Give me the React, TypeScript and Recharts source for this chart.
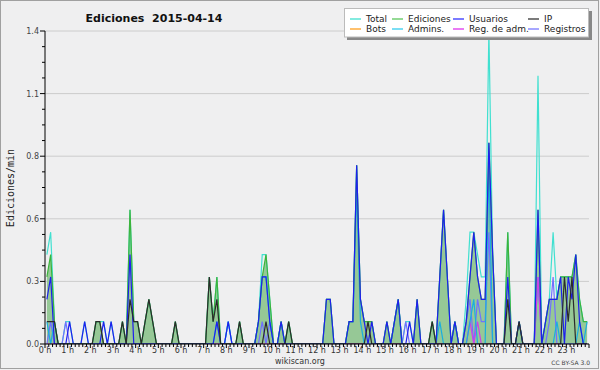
import React from 'react';
import { ComposedChart, Area, Line, XAxis, YAxis, CartesianGrid } from 'recharts';

const hourLabels = ['0 h','1 h','2 h','3 h','4 h','5 h','6 h','7 h','8 h','9 h','10 h','11 h','12 h','13 h','14 h','15 h','16 h','17 h','18 h','19 h','20 h','21 h','22 h','23 h'];
const yMajorTicks = [0, 0.28, 0.56, 0.84, 1.12, 1.4];
const yMajorLabels = ['0.0', '0.3', '0.6', '0.8', '1.1', '1.4'];
const yMinorTicks = [0.07, 0.14, 0.21, 0.35, 0.42, 0.49, 0.63, 0.7, 0.77, 0.91, 0.98, 1.05, 1.19, 1.26, 1.33];

// 10-minute bins, edits per minute
const total = [
  0.4,0.5,0.1,0,0,0.1,0.1,0,0,0,0.1,0,0,0.1,0.1,0.1,0,0.1,0,0,0.1,0,0.6,0.1,
  0.1,0,0.1,0.2,0.1,0,0,0,0,0,0.1,0,0,0,0,0,0,0,0,0.3,0.1,0.3,0,0,
  0.1,0,0,0.1,0,0,0,0,0.1,0.4,0.4,0.2,0,0,0.1,0,0.1,0,0,0,0,0,0,0,
  0,0,0.2,0.2,0,0,0,0,0.1,0.1,0.8,0.2,0.1,0.1,0.1,0,0,0,0.1,0,0.1,0.2,0,0.1,
  0.1,0,0.2,0,0,0,0.1,0,0.3,0.6,0.3,0,0.1,0,0,0.2,0.5,0.5,0.4,0.3,0.3,1.4,0.4,0,
  0,0,0.5,0,0,0.1,0,0,0,0,1.2,0,0.1,0.2,0.5,0.2,0.3,0.3,0.3,0.3,0.4,0.2,0.1,0.1,
];
const ediciones = [
  0.3,0.4,0.1,0,0,0,0,0,0,0,0,0,0,0.1,0.1,0,0,0,0,0,0.1,0,0.6,0.1,
  0.1,0,0.1,0.2,0.1,0,0,0,0,0,0.1,0,0,0,0,0,0,0,0,0.3,0.1,0.3,0,0,
  0,0,0,0.1,0,0,0,0,0.1,0.3,0.4,0.2,0,0,0.1,0,0.1,0,0,0,0,0,0,0,
  0,0,0.2,0.2,0,0,0,0,0.1,0.1,0.8,0.2,0.1,0.1,0.1,0,0,0,0.1,0,0.1,0.2,0,0,
  0,0,0.2,0,0,0,0.1,0,0.3,0.6,0.3,0,0.1,0,0,0.1,0.3,0.5,0.3,0.2,0.2,0.9,0.4,0,
  0,0,0.5,0,0,0.1,0,0,0,0,0.6,0,0.1,0.2,0.2,0.2,0.3,0.3,0.3,0.3,0.4,0.2,0.1,0.1,
];
const usuarios = [
  0.2,0.3,0,0,0,0,0.1,0,0,0,0.1,0,0,0,0,0.1,0,0.1,0,0,0,0,0.4,0,
  0,0,0,0,0,0,0,0,0,0,0,0,0,0,0,0,0,0,0,0,0,0.1,0,0,
  0.1,0,0,0,0,0,0,0,0.1,0.3,0.3,0.1,0,0,0.1,0,0,0,0,0,0,0,0,0,
  0,0,0.2,0.2,0,0,0,0,0.1,0.1,0.8,0.2,0.1,0,0.1,0,0,0,0.1,0,0.1,0.2,0,0,
  0.1,0,0.2,0,0,0,0,0,0.3,0.6,0.3,0,0.1,0,0,0.1,0.3,0.5,0.3,0.2,0.2,0.9,0.4,0,
  0,0,0.3,0,0,0.1,0,0,0,0,0.6,0,0.1,0.2,0.2,0.2,0.3,0,0.3,0.2,0.4,0.1,0,0,
];
const ip = [
  0.1,0.1,0.1,0,0,0,0,0,0,0,0,0,0,0.1,0.1,0,0,0,0,0,0.1,0,0.2,0.1,
  0.1,0,0.1,0.2,0.1,0,0,0,0,0,0.1,0,0,0,0,0,0,0,0,0.3,0.1,0.2,0,0,
  0,0,0,0.1,0,0,0,0,0,0,0.1,0,0,0,0,0,0.1,0,0,0,0,0,0,0,
  0,0,0,0,0,0,0,0,0,0,0,0,0,0.1,0,0,0,0,0,0,0,0,0,0,
  0,0,0,0,0,0,0.1,0,0,0,0,0,0,0,0,0,0,0,0,0,0,0,0,0,
  0,0,0.2,0,0,0.1,0,0,0,0,0,0,0,0,0,0,0,0.3,0.1,0.3,0,0,0,0,
];
const bots = [
  0,0,0,0,0,0,0,0,0,0,0,0,0,0,0,0,0,0,0,0,0,0,0,0,
  0,0,0,0,0,0,0,0,0,0,0,0,0,0,0,0,0,0,0,0,0,0,0,0,
  0,0,0,0,0,0,0,0,0,0,0,0,0,0,0,0,0,0,0,0,0,0,0,0,
  0,0,0,0,0,0,0,0,0,0,0,0,0,0,0,0,0,0,0,0,0,0,0,0,
  0,0,0,0,0,0,0,0,0,0,0,0,0,0,0,0,0,0,0,0,0,0,0,0,
  0,0,0,0,0,0,0,0,0,0,0,0,0,0,0,0,0,0,0,0,0,0,0,0,
];
const admins = [
  0.1,0,0.1,0,0,0,0,0,0,0,0,0,0,0,0,0,0,0,0,0,0,0,0,0,
  0,0,0,0,0,0,0,0,0,0,0,0,0,0,0,0,0,0,0,0,0,0.1,0,0,
  0.1,0,0,0,0,0,0,0,0.1,0.3,0.3,0.1,0,0,0.1,0,0,0,0,0,0,0,0,0,
  0,0,0,0,0,0,0,0,0.1,0.1,0.7,0.1,0,0,0,0,0,0,0,0,0.1,0.2,0,0,
  0,0,0,0,0,0,0,0,0.1,0,0,0,0.1,0,0,0,0.1,0.2,0,0,0,0.8,0,0,
  0,0,0,0,0,0,0,0,0,0,0,0,0,0,0,0.1,0,0,0,0,0,0.1,0,0.1,
];
const regAdm = [
  0,0,0,0,0,0,0,0,0,0,0,0,0,0,0,0,0,0,0,0,0,0,0,0,
  0,0,0,0,0,0,0,0,0,0,0,0,0,0,0,0,0,0,0,0,0,0,0,0,
  0,0,0,0,0,0,0,0,0,0,0,0,0,0,0,0,0,0,0,0,0,0,0,0,
  0,0,0,0,0,0,0,0,0,0,0,0,0,0,0,0,0,0,0,0,0,0,0,0,
  0,0,0,0,0,0,0,0,0,0,0,0,0,0,0,0,0.1,0,0.1,0,0,0,0,0,
  0,0,0,0,0,0,0,0,0,0,0.3,0,0,0,0,0,0,0,0,0,0,0,0,0,
];
const registros = [
  0,0.1,0,0,0,0.1,0,0,0,0,0,0,0,0,0,0,0,0,0,0,0,0,0,0,
  0,0,0,0,0,0,0,0,0,0,0,0,0,0,0,0,0,0,0,0,0,0,0,0,
  0,0,0,0,0,0,0,0,0,0.1,0,0.1,0,0,0,0,0,0,0,0,0,0,0,0,
  0,0,0,0,0,0,0,0,0,0,0,0,0,0,0,0,0,0,0,0,0,0,0,0.1,
  0,0,0,0,0,0,0,0,0,0,0,0,0,0,0,0.1,0.2,0,0.2,0.1,0.1,0.5,0,0,
  0,0,0,0,0,0,0,0,0,0,0.3,0,0,0.1,0.3,0,0,0,0,0,0,0,0,0,
];

const rows = total.map((t, i) => ({
  x: i + 0.5,
  total: t,
  ediciones: ediciones[i],
  usuarios: usuarios[i],
  ip: ip[i],
  bots: bots[i],
  admins: admins[i],
  regAdm: regAdm[i],
  registros: registros[i],
}));

const xTicks = Array.from({ length: 145 }, (_, i) => i);
const yTicks = [...yMajorTicks, ...yMinorTicks].sort((a, b) => a - b);

const C = {
  total: '#40e0d0',
  edLine: '#3cb43c',
  edFill: '#96c896',
  usuarios: '#1f1fee',
  ip: '#2b2b2b',
  bots: '#ffa020',
  admins: '#19aee0',
  regAdm: '#d040e8',
  registros: '#7070ff',
};

const FONT = '"DejaVu Sans", sans-serif';

const XTick = (props: any) => {
  const { x, y, payload } = props;
  const v = Math.round(payload.value);
  const isHour = v % 6 === 0;
  const label = isHour && v / 6 < 24 ? hourLabels[v / 6] : '';
  return (
    <g>
      <line x1={x} x2={x} y1={y} y2={y + (isHour ? 4 : 3)} stroke="#000" strokeWidth={1} />
      {label ? (
        <text x={x} y={y + 9} textAnchor="middle" fontSize={8} fontFamily={FONT} fill="#333">{label}</text>
      ) : null}
    </g>
  );
};

const YTick = (props: any) => {
  const { x, y, payload } = props;
  const idx = yMajorTicks.findIndex((t) => Math.abs(t - payload.value) < 1e-6);
  const major = idx >= 0;
  return (
    <g>
      <line x1={x - (major ? 5 : 3)} x2={x} y1={y} y2={y} stroke="#000" strokeWidth={1} />
      {major ? (
        <text x={x - 6} y={y + 3} textAnchor="end" fontSize={8} fontFamily={FONT} fill="#444">{yMajorLabels[idx]}</text>
      ) : null}
    </g>
  );
};

const legendItems = [
  { name: 'Total', color: C.total, col: 0, row: 0 },
  { name: 'Ediciones', color: '#5cc65c', col: 1, row: 0 },
  { name: 'Usuarios', color: '#3333ff', col: 2, row: 0 },
  { name: 'IP', color: '#333333', col: 3, row: 0 },
  { name: 'Bots', color: C.bots, col: 0, row: 1 },
  { name: 'Admins.', color: '#33ccee', col: 1, row: 1 },
  { name: 'Reg. de adm.', color: '#dd33ee', col: 2, row: 1 },
  { name: 'Registros', color: '#7777ff', col: 3, row: 1 },
];
const legendCols = [350, 392, 453, 528];

export default function App() {
  return (
    <div style={{ position: 'relative', width: 600, height: 370, background: '#efeff0' }}>
      <style>{'body{margin:0}'}</style>
      <ComposedChart
        width={600}
        height={370}
        data={rows}
        margin={{ top: 31, right: 11, bottom: 0, left: 0 }}
      >
        <CartesianGrid vertical={false} horizontalValues={yMajorTicks} stroke="#cccccc" strokeWidth={1} />
        <XAxis
          dataKey="x"
          type="number"
          domain={[0, 144]}
          ticks={xTicks}
          interval={0}
          height={26}
          tickSize={0}
          tickMargin={0}
          tick={<XTick />}
          tickLine={false}
          axisLine={{ stroke: '#000', strokeWidth: 1 }}
          allowDataOverflow
        />
        <YAxis
          type="number"
          domain={[0, 1.4]}
          ticks={yTicks}
          interval={0}
          width={45}
          tickSize={0}
          tickMargin={0}
          tick={<YTick />}
          tickLine={false}
          axisLine={{ stroke: '#000', strokeWidth: 1 }}
          allowDataOverflow
        />
        <Area type="linear" dataKey="ediciones" stroke="none" fill={C.edFill} fillOpacity={1} isAnimationActive={false} dot={false} activeDot={false} />
        <Line type="linear" dataKey="total" stroke={C.total} strokeWidth={1.2} dot={false} activeDot={false} isAnimationActive={false} />
        <Line type="linear" dataKey="bots" stroke={C.bots} strokeWidth={1.2} dot={false} activeDot={false} isAnimationActive={false} />
        <Line type="linear" dataKey="registros" stroke={C.registros} strokeWidth={1.2} dot={false} activeDot={false} isAnimationActive={false} />
        <Line type="linear" dataKey="regAdm" stroke={C.regAdm} strokeWidth={1.2} dot={false} activeDot={false} isAnimationActive={false} />
        <Line type="linear" dataKey="admins" stroke={C.admins} strokeWidth={1.2} dot={false} activeDot={false} isAnimationActive={false} />
        <Line type="linear" dataKey="ediciones" stroke={C.edLine} strokeWidth={1.2} dot={false} activeDot={false} isAnimationActive={false} />
        <Line type="linear" dataKey="usuarios" stroke={C.usuarios} strokeWidth={1.2} dot={false} activeDot={false} isAnimationActive={false} />
        <Line type="linear" dataKey="ip" stroke={C.ip} strokeWidth={1.2} dot={false} activeDot={false} isAnimationActive={false} />
      </ComposedChart>
      <svg width={600} height={370} style={{ position: 'absolute', left: 0, top: 0, pointerEvents: 'none' }}>
        <rect x={0.5} y={0.5} width={598} height={368} fill="none" stroke="#a0a0a0" strokeWidth={1} />
        <text x={154} y={22} textAnchor="middle" fontSize={11} fontWeight="bold" fontFamily={FONT} fill="#111">
          {'Ediciones\u00a0\u00a02015-04-14'}
        </text>
        <text
          x={14}
          y={188}
          transform="rotate(-90 14 188)"
          textAnchor="middle"
          fontSize={10}
          fontFamily='"DejaVu Sans Mono", monospace'
          fill="#222"
        >
          Ediciones/min
        </text>
        <text x={300} y={364} textAnchor="middle" fontSize={8} fontFamily={FONT} fill="#333">wikiscan.org</text>
        <text x={590} y={365} textAnchor="end" fontSize={6} fontFamily={FONT} fill="#444">CC BY-SA 3.0</text>
        <rect x={347} y={11} width={245} height={29} fill="#888888" />
        <rect x={344.5} y={8.5} width={244} height={28.5} fill="#ffffff" stroke="#bbbbbb" strokeWidth={1} />
        {legendItems.map((it) => {
          const lx = legendCols[it.col];
          const cy = it.row === 0 ? 19 : 29;
          return (
            <g key={it.name}>
              <line x1={lx} x2={lx + 11} y1={cy} y2={cy} stroke={it.color} strokeWidth={1.3} />
              <text x={lx + 16} y={cy + 3.3} fontSize={9} fontFamily={FONT} fill="#222">{it.name}</text>
            </g>
          );
        })}
      </svg>
    </div>
  );
}
